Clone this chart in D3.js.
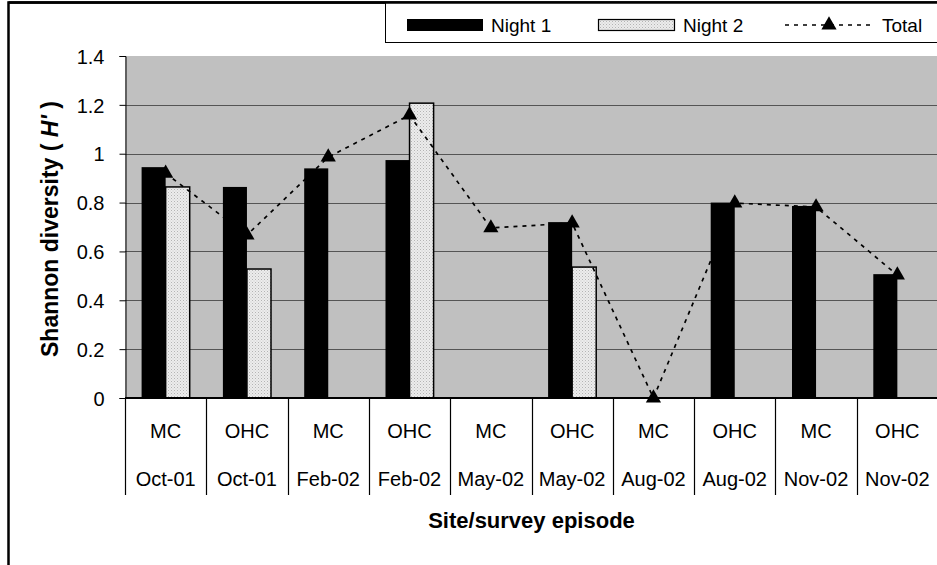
<!DOCTYPE html>
<html>
<head>
<meta charset="utf-8">
<script src="https://cdn.jsdelivr.net/npm/d3@7"></script>
<style>
  body { margin: 0; background: #fff; }
  svg text { font-family: "Liberation Sans", Arial, sans-serif; fill: #000; }
</style>
</head>
<body>
<div id="chart"></div>
<script>
const sites  = ['MC','OHC','MC','OHC','MC','OHC','MC','OHC','MC','OHC'];
const dates  = ['Oct-01','Oct-01','Feb-02','Feb-02','May-02','May-02','Aug-02','Aug-02','Nov-02','Nov-02'];
const night1 = [0.945, 0.864, 0.94, 0.974, null, 0.72, null, 0.80, 0.786, 0.507];
const night2 = [0.864, 0.528, null, 1.207, null, 0.536, null, null, null, null];
const total  = [0.92, 0.667, 0.986, 1.158, 0.696, 0.716, 0, 0.798, 0.782, 0.503];
const yTicks = [0, 0.2, 0.4, 0.6, 0.8, 1, 1.2, 1.4];

const W = 937, H = 565;
const plot = { left: 125, right: 938, top: 56, bottom: 398 };

const svg = d3.select('#chart').append('svg')
  .attr('width', W).attr('height', H);

const defs = svg.append('defs');
const pat = defs.append('pattern')
  .attr('id', 'dots').attr('patternUnits', 'userSpaceOnUse')
  .attr('width', 3).attr('height', 3);
pat.append('rect').attr('width', 3).attr('height', 3).attr('fill', '#ececec');
pat.append('rect').attr('x', 0).attr('y', 0).attr('width', 1).attr('height', 1).attr('fill', '#b4b4b4');
pat.append('rect').attr('x', 1.5).attr('y', 1.5).attr('width', 1).attr('height', 1).attr('fill', '#c8c8c8');

function txt(g, x, y, s, opts = {}) {
  return g.append('text')
    .attr('x', x).attr('y', y)
    .attr('text-anchor', opts.anchor || 'middle')
    .attr('font-size', opts.size || 20)
    .attr('font-weight', opts.bold ? 'bold' : null)
    .text(s);
}

const idx = d3.range(sites.length);
const x = d3.scaleBand().domain(idx).range([plot.left, plot.right]).paddingInner(0);
const xs = d3.scaleBand().domain(['n1', 'n2']).range([0, x.bandwidth()]).paddingOuter(0.69);
const y = d3.scaleLinear().domain([0, 1.4]).range([plot.bottom, plot.top]);

// plot background
svg.append('rect')
  .attr('x', plot.left).attr('y', plot.top)
  .attr('width', plot.right - plot.left).attr('height', plot.bottom - plot.top)
  .attr('fill', '#c0c0c0');

// gridlines
svg.append('g').selectAll('line')
  .data(yTicks.filter(t => t > 0 && t < 1.4))
  .join('line')
  .attr('x1', plot.left).attr('x2', plot.right)
  .attr('y1', d => Math.round(y(d)) + 0.5).attr('y2', d => Math.round(y(d)) + 0.5)
  .attr('stroke', '#555').attr('stroke-width', 1);

// y axis
const yAxis = svg.append('g')
  .attr('transform', `translate(${plot.left + 0.5},0)`)
  .call(d3.axisLeft(y).tickValues(yTicks).tickSize(6).tickPadding(15).tickFormat(d3.format('~g')));
yAxis.select('.domain').attr('stroke', '#000');
yAxis.selectAll('.tick line').attr('stroke', '#000');
yAxis.selectAll('.tick text')
  .attr('font-size', 20)
  .attr('font-family', '"Liberation Sans", Arial, sans-serif')
  .attr('dy', '0.36em');

// bars
const bars = svg.append('g');
bars.selectAll('rect.n1')
  .data(idx.filter(i => night1[i] != null))
  .join('rect').attr('class', 'n1')
  .attr('x', i => x(i) + xs('n1'))
  .attr('width', xs.bandwidth())
  .attr('y', i => y(night1[i]))
  .attr('height', i => y(0) - y(night1[i]))
  .attr('fill', '#000');

bars.selectAll('rect.n2')
  .data(idx.filter(i => night2[i] != null))
  .join('rect').attr('class', 'n2')
  .attr('x', i => x(i) + xs('n2'))
  .attr('width', xs.bandwidth())
  .attr('y', i => y(night2[i]))
  .attr('height', i => y(0) - y(night2[i]))
  .attr('fill', 'url(#dots)')
  .attr('stroke', '#000').attr('stroke-width', 1.5);

// x axis baseline
svg.append('line')
  .attr('x1', plot.left).attr('x2', plot.right)
  .attr('y1', plot.bottom).attr('y2', plot.bottom)
  .attr('stroke', '#000').attr('stroke-width', 2);

// total line
const cx = i => x(i) + x.bandwidth() / 2;
const line = d3.line().x((d, i) => cx(i)).y(d => y(d));
svg.append('path')
  .attr('d', line(total))
  .attr('fill', 'none')
  .attr('stroke', '#000').attr('stroke-width', 1.7)
  .attr('stroke-dasharray', '4,5');

const tri = d3.symbol().type(d3.symbolTriangle).size(100);
svg.append('g').selectAll('path')
  .data(total)
  .join('path')
  .attr('d', tri)
  .attr('transform', (d, i) => `translate(${cx(i)},${y(d)})`)
  .attr('fill', '#000');

// category separators and labels
const xg = svg.append('g');
xg.selectAll('line')
  .data(d3.range(sites.length + 1))
  .join('line')
  .attr('x1', i => Math.round(plot.left + i * x.step()) + 0.5)
  .attr('x2', i => Math.round(plot.left + i * x.step()) + 0.5)
  .attr('y1', plot.bottom).attr('y2', 495)
  .attr('stroke', '#000').attr('stroke-width', 1.2);
idx.forEach(i => {
  txt(xg, cx(i), 438, sites[i]);
  txt(xg, cx(i), 486, dates[i]);
});

// axis titles
txt(svg, (plot.left + plot.right) / 2, 528, 'Site/survey episode', { bold: true, size: 22 });
const yt = svg.append('text')
  .attr('transform', `translate(58,${(plot.top + plot.bottom) / 2 + 2}) rotate(-90)`)
  .attr('text-anchor', 'middle')
  .attr('font-size', 23)
  .attr('font-weight', 'bold');
yt.append('tspan').text('Shannon diversity ( ');
yt.append('tspan').attr('font-style', 'italic').text("H'");
yt.append('tspan').text(' )');

// chart border
svg.append('path')
  .attr('d', `M8.5,${H} V2.5 H${W}`)
  .attr('fill', 'none').attr('stroke', '#000').attr('stroke-width', 2.5);

// legend
const lg = svg.append('g');
lg.append('rect')
  .attr('x', 385.5).attr('y', 2.5).attr('width', W - 385).attr('height', 40)
  .attr('fill', '#fff').attr('stroke', '#000').attr('stroke-width', 1);
lg.append('path').attr('d', `M8.5,2.5 H${W}`).attr('stroke', '#000').attr('stroke-width', 2.5);
lg.append('rect').attr('x', 407).attr('y', 19).attr('width', 76).attr('height', 12).attr('fill', '#000');
txt(lg, 491, 32, 'Night 1', { anchor: 'start', size: 19 });
lg.append('rect').attr('x', 598.5).attr('y', 19.5).attr('width', 76).attr('height', 11)
  .attr('fill', 'url(#dots)').attr('stroke', '#000').attr('stroke-width', 1.2);
txt(lg, 683, 32, 'Night 2', { anchor: 'start', size: 19 });
lg.append('line').attr('x1', 785).attr('x2', 872).attr('y1', 25).attr('y2', 25)
  .attr('stroke', '#000').attr('stroke-width', 1.7).attr('stroke-dasharray', '4,5');
lg.append('path').attr('d', tri).attr('transform', 'translate(829,25)').attr('fill', '#000');
txt(lg, 882, 32, 'Total', { anchor: 'start', size: 19 });
</script>
</body>
</html>
